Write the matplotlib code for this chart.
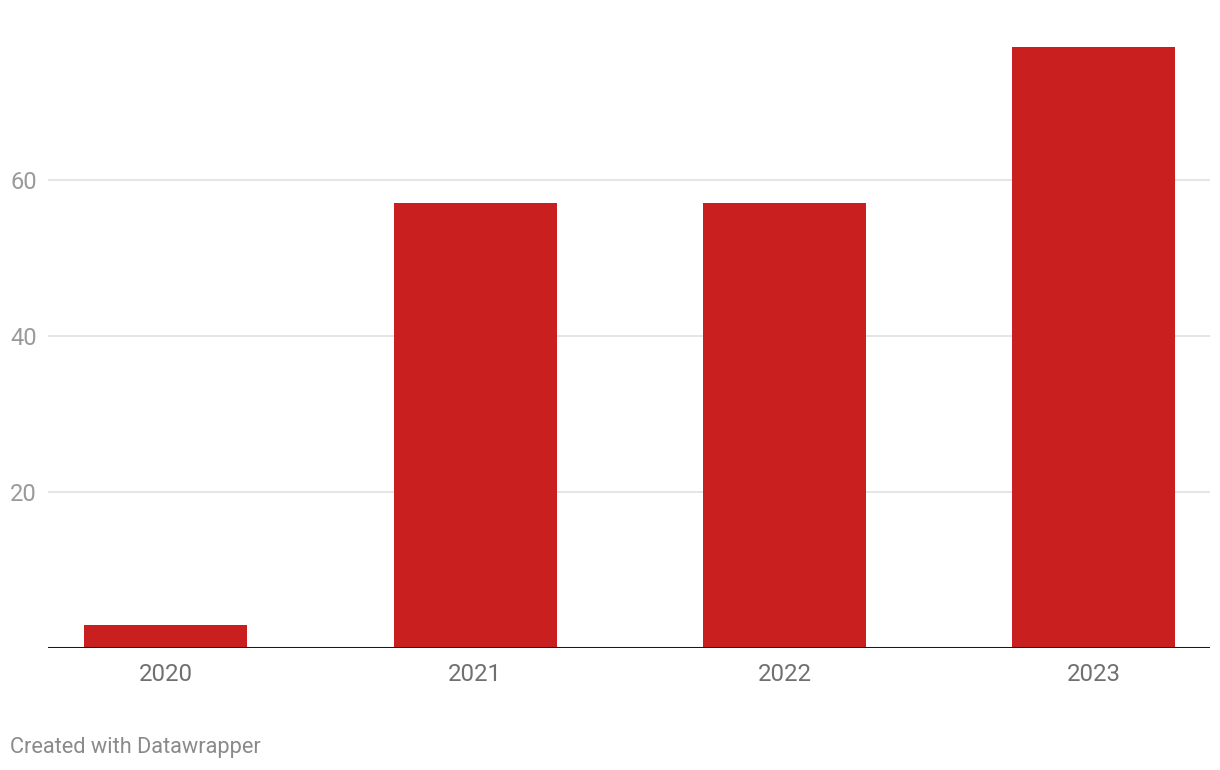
import matplotlib
matplotlib.use("Agg")
import matplotlib.pyplot as plt

years = ["2020", "2021", "2022", "2023"]
values = [3, 57, 57, 77]
yticks = [20, 40, 60]

plt.rcParams['font.family'] = ['Roboto', 'DejaVu Sans']

W, H = 1220, 770
fig = plt.figure(figsize=(W / 100, H / 100), dpi=100)
left, right, top, bottom = 48, 1210, 0, 648
ax = fig.add_axes([left / W, 1 - bottom / H, (right - left) / W, (bottom - top) / H])

x = list(range(len(years)))
ax.bar(x, values, width=0.527, color="#c91f1f", zorder=3)
ax.set_xlim(-0.38, 3.375)
ax.set_ylim(0, 648 / 7.8)

for t in yticks:
    ax.axhline(t, color="#e0e0e0", lw=1.2, zorder=1)
ax.axhline(0, color="#1a1a1a", lw=2.2, zorder=4)

ax.set_yticks(yticks)
ax.set_yticklabels([str(t) for t in yticks])
ax.tick_params(axis='y', length=0, pad=0, labelsize=17, labelcolor="#9a9a9a")
for lab in ax.get_yticklabels():
    lab.set_horizontalalignment('left')
    lab.set_x(-38 / (right - left))
ax.set_xticks(x)
ax.set_xticklabels(years)
ax.tick_params(axis='x', length=0, pad=10.5, labelsize=17.3, labelcolor="#707070")

for s in ax.spines.values():
    s.set_visible(False)

fig.text(10 / W, 1 - 748 / H, "Created with Datawrapper", fontsize=15.7,
         color="#8a8a8a", va="center", ha="left")

fig.savefig("out.png", dpi=100)
